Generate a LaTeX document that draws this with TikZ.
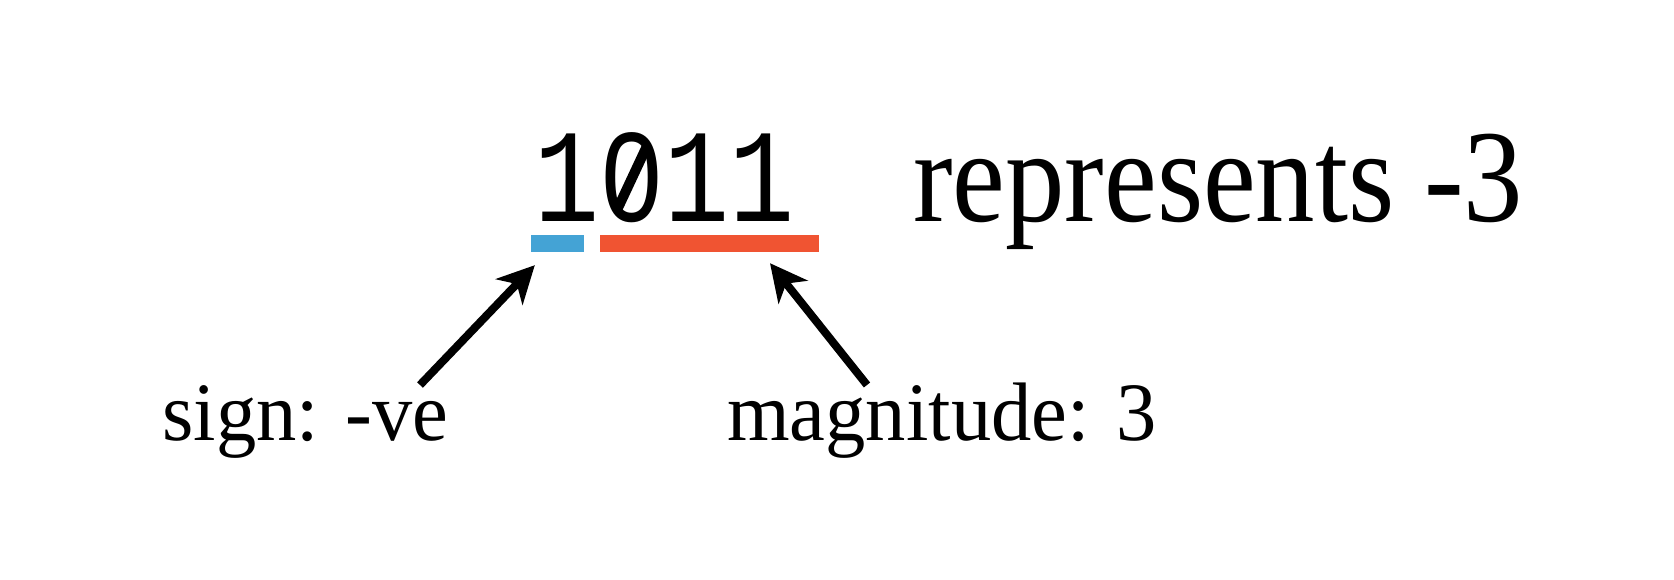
\documentclass[tikz,border=0pt]{standalone}
\usepackage{fontspec}
\setmainfont{Liberation Serif}[FakeStretch=0.9]
\newfontfamily\labelfont{Liberation Serif}[FakeStretch=0.97]
\newfontfamily\bitfont{Liberation Mono}[FakeStretch=0.815]
\usepackage{tikz}
\usetikzlibrary{arrows.meta, positioning}
\definecolor{signblue}{RGB}{68,163,213}
\definecolor{magorange}{RGB}{240,84,50}
\tikzset{
		bits/.style={inner sep=0pt, anchor=base, font=\bitfont\fontsize{133}{133}\selectfont},
		big text/.style={inner sep=0pt, font=\fontsize{132}{132}\selectfont},
		label text/.style={inner sep=0pt, anchor=base, font=\labelfont\fontsize{83}{83}\selectfont},
		bar/.style={inner sep=0pt, minimum height=17pt, draw=none},
		zero slash/.style={line width=10pt},
		pointer/.style={-{Stealth[length=37pt, width=37pt, inset=11pt]}, line width=8pt}
	}
\begin{document}
\begin{tikzpicture}[x=1pt, y=1pt]
				\useasboundingbox (0,0) rectangle (1674,580);
				\node[bits]                                       (word) at (664.5,358) {1011};
				\node[big text, right=118pt of word.base east, anchor=base west] (repr) {represents -3};
				% slashed zero
				\fill[white] ([shift={(-33,45)}]word.base) rectangle +(-10,11) rectangle +(10,-11);
				\draw[zero slash] ([shift={(-47.5,12)}]word.base) -- ([shift={(-17.5,76)}]word.base);
				\node[bar, fill=signblue, minimum width=53pt]     (sgn)  at (557.5,336.5) {};
				\node[bar, fill=magorange, minimum width=219pt]   (mag)  at (709.5,336.5) {};
				\node[label text]                                 (signlbl) at (305.5,139) {sign: -ve};
				\node[label text]                                 (maglbl)  at (942,139)   {magnitude: 3};
				\draw[pointer] ([shift={(114.5,56)}]signlbl.base) -- ([shift={(4,-13)}]sgn.south west);
				\draw[pointer] ([shift={(-75,56)}]maglbl.base) -- ([shift={(60.5,-11)}]mag.south);
\end{tikzpicture}
\end{document}
